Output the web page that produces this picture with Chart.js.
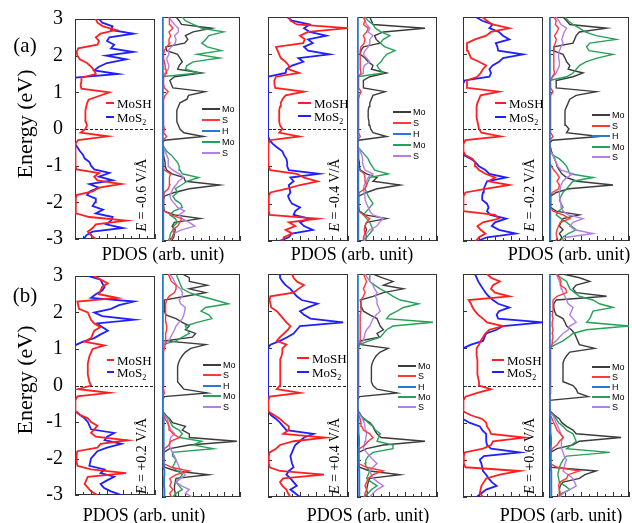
<!DOCTYPE html>
<html>
<head>
<meta charset="utf-8">
<script src="https://cdn.jsdelivr.net/npm/chart.js@4.4.1/dist/chart.umd.min.js"></script>
<style>
  body { margin:0; width:632px; height:523px; background:#fff; position:relative; overflow:hidden; }
  canvas { position:absolute; }
  .t { position:absolute; white-space:nowrap; line-height:1; color:#000; font-family:'Liberation Serif','Times New Roman',serif; transform:translate(-50%,-50%); }
  .rot { transform:translate(-50%,-50%) rotate(-90deg); }
  .lg { position:absolute; white-space:nowrap; line-height:1; color:#000; transform:translateY(-50%); }
  .ln { position:absolute; height:2px; margin-top:-1px; }
</style>
</head>
<body>
<script>
// energy grid (eV), bottom to top
const energy = [
  -3.0,-2.9,-2.8,-2.7,-2.6,-2.5,-2.4,-2.3,-2.2,-2.1,
  -2.0,-1.9,-1.8,-1.7,-1.6,-1.5,-1.4,-1.3,-1.2,-1.1,
  -1.0,-0.9,-0.8,-0.7,-0.6,-0.5,-0.4,-0.3,-0.2,-0.1,
  0.0,0.1,0.2,0.3,0.4,0.5,0.6,0.7,0.8,0.9,
  1.0,1.1,1.2,1.3,1.4,1.5,1.6,1.7,1.8,1.9,
  2.0,2.1,2.2,2.3,2.4,2.5,2.6,2.7,2.8,2.9,3.0];

const fields = ['-0.6', '-0.4', '-0.2', '+0.2', '+0.4', '+0.6'];
const leftLabels = ['MoSH', 'MoS<span style="font-size:8px;position:relative;top:3px">2</span>'];
const rightLabels = ['Mo', 'S', 'H', 'Mo', 'S'];
const energyTicks = [-3, -2, -1, 0, 1, 2, 3];
const pdosTicks = [0, 1, 2, 3, 4, 5, 6, 7, 8, 9, 10];

// ---- left panels: total PDOS (arb. unit) ----
const mosh_n06 = [
  2.6,2.0,1.6,2.2,2.6,6.4,1.8,0.1,0.1,0.1,
  0.1,0.1,0.2,2.2,3.0,5.8,2.8,2.4,3.0,0.2,
  0.05,0.05,0.05,0.05,0.05,0.05,0.1,0.4,4.1,0.7,
  1.3,1.5,1.35,1.3,1.3,1.3,1.4,1.5,1.7,3.0,
  4.3,0.8,0.7,0.8,0.8,2.6,2.4,2.0,1.5,0.6,
  0.3,0.2,0.4,2.8,3.0,2.6,3.2,5.1,3.5,2.8,2.6];
const mos2_n06 = [
  1.1,1.4,2.2,6.0,3.9,4.5,4.7,2.6,3.5,2.2,
  2.5,2.6,1.5,1.9,3.0,1.8,4.7,3.0,4.3,2.4,
  2.0,1.8,1.2,1.0,0.6,0.3,0,0,0,0,
  0,0,0,0,0,0,0,0,0,0,
  0,0,0,0,0,5.4,2.4,3.0,4.0,6.4,
  3.9,7.3,4.5,4.9,4.0,4.3,7.3,4.5,4.7,3.4,3.0];
const mosh_n04 = [
  1.8,2.0,3.0,2.2,3.4,2.6,6.2,0.2,0.1,0.1,
  0.1,0.1,0.1,0.3,2.4,4.0,6.2,4.5,3.6,0.3,
  0.05,0.05,0.05,0.05,0.05,0.05,0.05,0.2,3.9,1.4,
  1.8,1.5,1.4,1.4,1.4,1.4,1.5,1.6,1.8,2.2,
  4.5,0.9,0.8,0.8,1.0,3.9,2.6,2.6,2.2,1.6,
  1.4,1.2,1.0,4.4,4.6,4.0,5.0,10.0,3.6,2.8,2.6];
const mos2_n04 = [
  1.4,2.6,3.0,5.6,4.5,4.0,5.2,3.2,3.4,4.0,
  3.0,2.7,2.5,2.8,2.7,2.6,3.2,2.8,6.4,2.6,
  2.4,2.4,2.3,2.0,1.8,1.2,0.6,0.2,0,0,
  0,0,0,0,0,0,0,0,0,0,
  0,0,0,0,0,2.2,2.3,3.0,4.4,3.8,
  7.7,5.0,4.5,5.6,5.0,7.3,5.2,4.5,5.2,3.0,2.4];
const mosh_n02 = [
  1.6,2.0,2.8,2.2,1.8,2.5,4.5,4.0,0.05,0.05,
  0.05,0.05,0.05,0.3,3.0,5.8,3.2,4.0,2.8,2.0,
  1.6,1.5,1.2,0.3,0.05,0.05,0.05,0.3,4.7,2.3,
  2.0,1.9,1.8,1.7,1.7,1.7,1.7,1.8,2.0,2.2,
  4.5,0.6,0.5,0.5,1.8,2.2,2.5,2.9,2.0,1.0,
  0.8,0.6,0.5,0.5,1.5,2.9,3.5,5.8,3.7,3.0,2.4];
const mos2_n02 = [
  1.8,3.0,6.6,4.5,3.6,4.0,5.4,3.4,3.0,3.2,
  3.0,2.4,2.4,2.5,2.6,2.8,3.0,5.4,3.3,2.8,
  2.0,1.6,1.0,0.1,0,0,0,0,0,0,
  0,0,0,0,0,0,0,0,0,0,
  0,0,0,0.2,3.3,3.5,3.3,3.7,4.5,5.0,
  7.5,4.4,4.3,4.1,5.8,5.0,4.5,3.3,3.7,2.4,1.6];
const mosh_p02 = [
  2.8,2.0,1.6,1.2,1.4,1.6,6.4,2.0,0.3,0.2,
  0.2,0.2,0.3,2.8,3.2,6.6,2.6,2.0,2.4,2.8,
  2.0,1.6,0.6,0.05,0.05,0.05,0.05,0.3,4.3,0.4,
  2.0,1.8,1.7,1.6,1.6,1.6,1.6,1.7,1.8,2.0,
  2.2,3.7,1.2,2.0,2.2,2.4,3.2,2.4,2.0,1.8,
  1.6,0.5,0.4,0.3,5.3,3.0,3.2,3.4,4.1,3.2,2.4];
const mos2_p02 = [
  5.8,4.5,3.6,3.2,4.0,4.9,3.2,3.7,1.8,1.9,
  2.0,2.4,2.8,4.0,5.8,3.7,4.0,4.9,2.0,1.8,
  1.6,1.2,0.6,0,0,0,0,0,0,0,
  0,0,0,0,0,0,0,0,0,0,
  0,0,1.0,2.4,3.2,4.1,3.4,2.8,7.4,3.4,
  2.4,4.5,5.5,7.4,2.0,2.6,3.4,3.7,3.4,3.2,1.6];
const mosh_p04 = [
  2.8,2.5,2.3,1.8,1.5,1.9,7.0,1.5,0.2,0.1,
  0.1,0.1,0.2,1.0,1.5,3.2,7.2,1.9,2.6,2.6,
  2.0,1.5,0.8,0.05,0.05,0.05,0.05,0.2,4.0,1.1,
  1.5,1.6,1.5,1.5,1.5,1.5,1.5,1.6,1.7,1.8,
  1.8,2.3,1.1,1.5,2.0,2.5,2.8,2.3,1.9,1.5,
  1.1,0.4,0.3,0.2,0.3,3.2,3.8,4.5,3.6,3.2,3.0];
const mos2_p04 = [
  4.0,3.4,2.8,3.6,3.2,2.8,2.3,2.6,3.2,3.0,
  2.9,2.8,3.0,3.2,3.4,4.0,4.5,5.7,2.3,1.9,
  1.5,1.0,0.4,0,0,0,0,0,0,0,
  0,0,0,0,0,0,0,0,0,0,
  0,0.3,1.5,2.4,3.2,3.6,4.0,9.4,5.3,4.5,
  4.0,5.0,6.2,4.2,3.6,3.2,2.8,2.2,1.8,1.5,1.5];
const mosh_p06 = [
  2.5,2.1,2.2,2.3,2.6,2.9,4.6,7.1,0.3,0.1,
  0.1,0.1,0.2,2.5,3.5,3.75,7.7,3.5,3.3,3.0,
  2.9,2.4,1.0,0.05,0.05,0.05,0.05,0.3,1.8,3.5,
  2.0,2.0,1.9,1.8,1.8,1.8,1.8,1.8,1.7,1.7,
  1.7,2.0,2.2,2.5,2.8,3.3,5.0,3.0,2.5,1.9,
  1.5,1.2,1.0,0.7,5.8,4.0,3.5,3.75,4.6,3.5,3.0];
const mos2_p06 = [
  1.7,2.3,2.9,4.2,3.6,3.2,2.9,2.5,2.4,2.3,
  2.1,2.6,7.1,3.5,3.0,2.9,2.9,2.9,2.4,2.1,
  0.8,0,0,0,0,0,0,0,0,0,
  0,0,0,0,0,0,0,0,0,0,
  0,1.0,2.5,2.7,2.9,4.2,5.0,10.0,4.4,4.2,
  4.5,5.8,4.4,3.75,3.2,2.8,2.5,2.2,1.9,1.7,1.5];

// ---- right panels: projected DOS (Mo, S, H of MoSH; Mo, S of MoS2) ----
const mo1_n06 = [
  1.2,1.5,1.6,1.7,1.3,1.6,4.9,1.6,0.3,0.2,
  0.2,0.2,0.3,1.6,3.5,7.4,3.0,2.8,1.3,0.6,
  0.4,0.4,0.3,0.2,0.2,0.1,0.05,0.3,5.3,2.8,
  2.3,2.1,1.9,1.9,1.9,1.9,2.1,2.3,3.2,3.4,
  5.5,1.4,1.2,1.0,1.6,5.1,2.0,2.2,2.6,2.3,
  2.0,0.6,0.5,2.9,3.3,3.0,4.0,6.4,2.5,2.2,1.8];
const s1_n06 = [
  1.0,1.3,1.5,1.4,2.0,2.3,2.5,1.2,0.3,0.2,
  0.2,0.2,0.2,0.3,0.8,1.0,0.9,1.0,1.1,0.3,
  0.1,0.1,0.1,0.1,0.1,0.1,0.1,0.1,0.6,0.2,
  0.3,0.2,0.2,0.2,0.2,0.2,0.2,0.2,0.2,0.4,
  0.8,0.3,0.2,0.2,0.2,0.6,0.5,0.4,0.3,0.2,
  0.2,0.3,0.6,1.0,0.9,1.1,0.9,1.4,1.0,1.0,0.9];
const mo2_n06 = [
  0.8,1.0,1.1,1.4,1.5,2.0,1.7,1.0,1.5,2.6,
  2.4,1.7,1.4,2.0,1.7,2.5,3.2,4.7,2.6,2.3,
  2.2,2.0,1.6,1.2,0.6,0.3,0,0,0,0,
  0,0,0,0,0,0,0,0,0,0,
  0,0,0,0,0,4.7,3.0,3.2,4.0,7.4,
  4.5,7.6,5.8,5.1,5.6,6.0,7.9,5.1,4.0,3.0,2.6];
const s2_n06 = [
  1.0,1.3,1.5,2.5,4.2,3.5,2.6,2.2,2.9,2.0,
  1.6,1.2,1.0,1.2,1.4,1.8,2.1,2.8,2.2,1.4,
  0.8,0.8,0.8,0.6,0.4,0.2,0,0,0,0,
  0,0,0,0,0,0,0,0,0,0,
  0,0,0,0,0,0.4,0.8,0.9,0.7,0.6,
  0.9,0.8,1.2,1.7,1.8,1.6,2.1,2.1,1.6,1.2,0.9];

const mo1_n04 = [
  1.0,1.2,1.0,1.2,1.0,1.2,3.7,1.0,0.3,0.2,
  0.2,0.2,0.2,1.2,2.5,5.4,2.0,2.5,1.2,0.4,
  0.3,0.3,0.2,0.2,0.2,0.1,0.05,0.2,3.7,2.0,
  1.7,1.6,1.5,1.4,1.4,1.4,1.5,1.6,1.8,2.0,
  3.5,0.8,0.8,0.8,1.6,3.7,1.8,2.0,1.4,1.0,
  0.4,0.5,0.8,2.9,2.4,2.2,3.3,8.5,2.0,1.8,1.6];
const s1_n04 = [
  0.8,0.8,1.0,0.9,1.0,1.2,1.6,0.8,0.2,0.2,
  0.2,0.2,0.2,0.3,1.0,1.2,1.0,1.0,0.9,0.3,
  0.1,0.1,0.1,0.1,0.1,0.1,0.1,0.1,0.4,0.2,
  0.2,0.2,0.2,0.2,0.2,0.2,0.2,0.2,0.2,0.3,
  0.5,0.2,0.2,0.2,0.2,0.5,0.4,0.4,0.4,0.4,
  0.4,0.4,0.5,0.9,1.0,0.8,1.2,1.4,0.8,1.0,0.8];
const mo2_n04 = [
  1.0,1.2,1.6,2.0,1.8,1.6,1.2,0.8,1.2,1.6,
  2.0,1.7,1.4,1.2,1.0,1.2,1.4,1.6,3.9,2.2,
  1.9,1.6,1.4,1.0,0.6,0.2,0,0,0,0,
  0,0,0,0,0,0,0,0,0,0,
  0,0,0,0,0,3.3,2.8,2.5,3.0,3.3,
  3.7,4.75,3.5,2.9,3.3,4.1,3.0,2.3,2.0,1.4,1.0];
const s2_n04 = [
  0.9,1.0,1.2,1.6,2.5,2.8,3.3,2.0,1.6,1.4,
  1.2,1.0,1.0,0.9,0.8,0.9,1.2,1.4,2.0,1.0,
  0.8,0.7,0.7,0.6,0.4,0.2,0,0,0,0,
  0,0,0,0,0,0,0,0,0,0,
  0,0,0,0,0,0.8,0.8,0.9,1.6,1.2,
  0.8,1.0,1.4,1.6,1.6,2.0,1.4,1.6,1.2,1.0,0.8];

const mo1_n02 = [
  1.3,1.6,1.3,1.75,1.3,1.5,1.75,3.8,0.9,0.2,
  0.2,0.2,0.2,0.9,2.5,8.0,3.5,2.2,1.6,1.3,
  1.0,0.9,0.7,0.5,0.3,0.2,0.05,0.4,6.3,2.2,
  2.5,2.1,2.0,2.0,2.0,2.0,2.2,2.4,2.6,3.4,
  5.9,0.9,0.9,0.9,3.0,4.25,2.4,2.6,2.2,2.0,
  1.75,0.5,0.6,3.0,3.2,3.4,3.8,7.2,2.6,2.2,1.75];
const s1_n02 = [
  0.9,1.0,0.9,1.0,1.2,1.4,2.6,1.75,0.5,0.2,
  0.2,0.2,0.2,0.4,1.2,1.3,1.0,1.3,1.0,0.6,
  0.3,0.1,0.1,0.1,0.1,0.1,0.1,0.1,0.5,0.2,
  0.2,0.2,0.2,0.2,0.2,0.2,0.2,0.2,0.2,0.2,
  0.5,0.2,0.2,0.2,0.4,0.7,0.6,0.6,0.6,0.6,
  0.6,0.6,0.6,0.8,0.9,0.7,1.0,1.2,0.8,0.9,0.6];
const mo2_n02 = [
  1.5,1.75,2.4,3.4,2.8,2.2,1.5,0.9,1.2,1.75,
  1.5,1.3,1.5,1.75,2.2,2.6,3.0,5.5,2.6,2.4,
  2.2,1.8,1.3,0.5,0.1,0,0,0,0,0,
  0,0,0,0,0,0,0,0,0,0,
  0,0,0,0.1,2.2,3.0,3.4,3.8,4.6,6.0,
  8.0,5.0,4.7,5.1,8.4,5.9,4.5,3.8,3.0,2.4,2.0];
const s2_n02 = [
  1.5,2.2,5.5,3.2,2.6,3.0,4.25,2.4,1.75,1.6,
  1.5,1.4,1.3,1.3,1.4,1.5,1.75,2.2,3.0,1.5,
  1.1,0.9,0.7,0.5,0.2,0,0,0,0,0,
  0,0,0,0,0,0,0,0,0,0,
  0,0,0,0.2,0.5,0.9,1.1,1.3,1.3,1.2,
  1.2,1.3,1.5,1.75,1.6,1.75,1.9,2.2,1.5,1.2,0.9];

const mo1_p02 = [
  1.8,1.7,1.6,1.6,1.7,1.8,6.0,1.8,0.3,0.2,
  0.2,0.2,0.2,1.0,3.5,9.6,3.5,3.5,2.6,3.0,
  1.35,1.0,0.5,0.1,0.05,0.05,0.05,0.3,5.8,2.8,
  2.4,2.0,2.0,2.0,2.0,2.0,2.1,2.3,2.6,3.0,
  3.7,5.6,0.4,3.9,4.3,3.0,3.5,2.6,1.8,0.5,
  0.3,0.3,0.3,0.3,3.0,5.6,3.5,5.8,3.5,3.5,2.6];
const s1_p02 = [
  1.2,1.0,1.4,1.0,1.2,1.0,1.8,3.5,1.2,0.2,
  0.2,0.2,0.2,0.3,0.9,1.1,2.2,1.4,1.0,0.9,
  0.7,0.4,0.2,0.1,0.1,0.1,0.1,0.1,0.3,0.2,
  0.2,0.2,0.2,0.2,0.2,0.2,0.2,0.2,0.2,0.2,
  0.3,0.4,0.4,0.5,0.5,0.6,0.6,0.5,0.5,0.4,
  0.4,0.5,0.5,0.6,0.9,1.6,1.8,1.8,1.2,1.0,0.8];
const mo2_p02 = [
  1.35,1.8,2.6,2.2,1.8,2.2,2.6,2.0,1.35,1.6,
  1.8,1.4,1.35,6.6,4.0,5.1,2.2,2.6,2.2,1.35,
  1.1,0.9,0.4,0,0,0,0,0,0,0,
  0,0,0,0,0,0,0,0,0,0,
  0,0.1,1.8,2.6,3.5,3.2,3.0,4.5,6.4,6.0,
  5.0,5.6,8.5,6.8,5.0,3.5,2.6,2.4,2.2,2.0,1.8];
const s2_p02 = [
  3.9,3.0,3.5,2.5,1.8,2.4,3.0,2.4,2.2,2.0,
  1.8,1.6,1.35,1.1,0.9,1.0,1.1,1.6,1.2,0.9,
  0.8,0.7,0.3,0,0,0,0,0,0,0,
  0,0,0,0,0,0,0,0,0,0,
  0,0.1,0.9,1.1,1.35,1.6,1.8,2.2,2.6,2.8,
  2.9,3.0,2.4,2.2,2.6,2.6,2.4,1.8,1.6,1.35,0.9];

const mo1_p04 = [
  1.2,1.3,1.2,1.3,1.4,1.6,5.4,1.6,0.3,0.2,
  0.2,0.2,0.2,1.2,3.3,8.5,3.0,2.5,2.2,2.0,
  1.6,0.8,0.5,0.2,0.05,0.05,0.05,0.3,5.0,2.5,
  2.0,1.8,1.8,1.8,1.8,1.8,1.9,2.1,2.4,2.9,
  3.9,0.5,0.4,2.8,2.5,3.3,2.9,2.7,2.5,1.6,
  0.8,0.6,0.5,0.4,2.0,3.3,5.8,3.3,4.5,3.1,2.0];
const s1_p04 = [
  1.0,1.0,1.2,1.0,1.2,1.4,2.0,3.3,1.2,0.2,
  0.2,0.2,0.2,0.3,1.0,1.4,2.0,1.6,0.8,0.6,
  0.5,0.4,0.2,0.1,0.1,0.1,0.1,0.1,0.2,0.2,
  0.2,0.2,0.2,0.2,0.2,0.2,0.2,0.2,0.2,0.2,
  0.2,0.3,0.4,0.4,0.4,0.4,0.4,0.4,0.4,0.4,
  0.5,0.5,0.5,0.5,0.8,1.0,0.8,1.0,1.2,1.0,0.8];
const mo2_p04 = [
  0.8,1.4,1.8,2.5,1.8,1.2,1.4,1.6,1.2,1.0,
  1.1,1.4,2.0,4.5,4.5,2.5,2.7,2.9,2.3,2.0,
  1.4,1.0,0.4,0,0,0,0,0,0,0,
  0,0,0,0,0,0,0,0,0,0,
  0,0.3,1.5,2.9,3.3,3.7,4.5,9.5,3.7,4.1,
  5.0,5.8,7.7,5.4,4.5,3.8,2.9,2.2,1.6,1.6,1.6];
const s2_p04 = [
  1.6,2.0,2.5,3.3,2.6,2.0,1.8,1.6,2.0,2.5,
  2.0,1.6,1.2,0.8,0.9,1.0,1.1,1.2,1.1,1.0,
  0.9,0.7,0.4,0,0,0,0,0,0,0,
  0,0,0,0,0,0,0,0,0,0,
  0,0.1,0.8,0.9,1.0,1.2,1.6,1.8,2.0,2.4,
  2.9,2.7,2.5,2.5,2.3,2.5,2.2,2.0,1.6,1.3,1.0];

const mo1_p06 = [
  1.3,1.3,1.3,1.4,1.75,3.8,4.5,5.9,0.3,0.2,
  0.2,0.2,0.2,1.0,3.0,3.8,9.0,3.4,3.0,2.2,
  1.6,1.3,0.7,0.2,0.05,0.05,0.05,4.9,3.6,3.4,
  3.0,1.8,1.75,1.75,1.75,1.75,1.75,1.9,2.2,2.6,
  5.7,3.8,3.6,3.4,3.2,2.8,2.2,2.0,1.75,0.9,
  0.7,0.6,0.6,0.9,7.2,3.4,3.0,3.4,5.1,3.8,1.75];
const s1_p06 = [
  1.2,1.4,1.3,1.2,1.3,2.2,2.4,3.8,1.0,0.2,
  0.2,0.2,0.2,0.4,1.0,1.3,1.8,1.4,1.0,0.8,
  0.6,0.4,0.2,0.1,0.1,0.1,0.1,0.1,0.2,0.2,
  0.2,0.2,0.2,0.2,0.2,0.2,0.2,0.2,0.2,0.2,
  0.2,0.4,0.4,0.5,0.4,0.5,0.4,0.4,0.5,0.4,
  0.5,0.5,0.5,0.5,1.0,2.2,2.1,1.4,1.5,1.3,1.0];
const mo2_p06 = [
  1.2,1.6,2.6,2.0,1.3,1.2,1.1,1.2,1.3,1.5,
  1.75,2.2,7.6,2.2,2.8,3.4,3.2,3.0,2.2,1.75,
  1.2,0.9,0.5,0,0,0,0,0,0,0,
  0,0,0,0,0,0,0,0,0,0,
  0,0.8,1.75,2.4,3.0,4.7,10.0,4.7,5.1,5.3,
  5.5,8.0,6.3,5.5,3.8,3.2,2.6,2.4,2.2,1.5,0.9];
const s2_p06 = [
  1.3,1.8,2.6,3.4,3.2,3.0,2.4,1.75,1.9,2.0,
  2.2,1.9,1.75,1.6,1.5,1.6,1.75,1.5,1.3,1.1,
  0.9,0.7,0.5,0,0,0,0,0,0,0,
  0,0,0,0,0,0,0,0,0,0,
  0,0.3,0.9,1.3,1.75,2.4,2.6,3.4,3.0,2.6,
  2.8,3.0,2.4,2.2,2.0,1.75,1.6,1.5,1.3,1.1,0.9];

const h_neg = [
  0.15,0.15,0.15,0.15,0.15,0.15,0.15,0.15,0.15,0.15,
  0.15,0.15,0.15,0.15,0.15,0.15,0.15,0.15,0.15,0.15,
  0.15,0.12,0.1,0.1,0.1,0.1,0.08,0.08,0.08,0.08,
  0.08,0.08,0.08,0.08,0.08,0.08,0.08,0.08,0.08,0.08,
  0.08,0.08,0.08,0.08,0.08,0.12,0.12,0.12,0.12,0.12,
  0.12,0.12,0.12,0.12,0.12,0.12,0.12,0.12,0.12,0.12,0.12];
const h_pos = [
  0.35,0.3,0.3,0.25,0.25,0.25,0.3,0.3,0.2,0.2,
  0.2,0.2,0.2,0.2,0.25,0.25,0.25,0.2,0.2,0.2,
  0.15,0.15,0.12,0.08,0.08,0.08,0.08,0.08,0.08,0.08,
  0.08,0.08,0.08,0.08,0.08,0.08,0.08,0.08,0.08,0.08,
  0.08,0.1,0.12,0.12,0.12,0.12,0.12,0.12,0.12,0.12,
  0.12,0.12,0.12,0.12,0.12,0.12,0.12,0.12,0.12,0.12,0.12];

const panels = [
  {left: [mosh_n06, mos2_n06], right: [mo1_n06, s1_n06, h_neg, mo2_n06, s2_n06]},
  {left: [mosh_n04, mos2_n04], right: [mo1_n04, s1_n04, h_neg, mo2_n04, s2_n04]},
  {left: [mosh_n02, mos2_n02], right: [mo1_n02, s1_n02, h_neg, mo2_n02, s2_n02]},
  {left: [mosh_p02, mos2_p02], right: [mo1_p02, s1_p02, h_pos, mo2_p02, s2_p02]},
  {left: [mosh_p04, mos2_p04], right: [mo1_p04, s1_p04, h_pos, mo2_p04, s2_p04]},
  {left: [mosh_p06, mos2_p06], right: [mo1_p06, s1_p06, h_pos, mo2_p06, s2_p06]}
];

// ---- styling / layout ----
const leftColors = ['#ff1f1f', '#1f1fff'];
const rightColors = ['#3c3c3c', '#ff3838', '#2a78d6', '#26a158', '#b47ee6'];
const PAD = 14;
const rowTop = [17, 274], rowBot = [241, 497];
const colX = [[75, 155, 162, 240], [268, 348, 357, 437], [463, 543, 549, 629]];
const serif = "'Liberation Serif','Times New Roman',serif";
const sans = "'Liberation Sans',Arial,sans-serif";

const framePlugin = {
  id: 'frame',
  beforeDatasetsDraw(chart, args, opts) {
    const {ctx, chartArea: a, scales: {x, y}} = chart;
    ctx.save();
    if (opts.zero) {
      const py = Math.round(y.getPixelForValue(0)) + 0.5;
      ctx.strokeStyle = '#222';
      ctx.lineWidth = 1;
      ctx.setLineDash([3, 2]);
      ctx.beginPath(); ctx.moveTo(a.left, py); ctx.lineTo(a.right, py); ctx.stroke();
      ctx.setLineDash([]);
    }
    ctx.strokeStyle = '#333';
    ctx.lineWidth = 1;
    ctx.strokeRect(a.left + 0.5, a.top + 0.5, a.right - a.left - 1, a.bottom - a.top - 1);
    ctx.beginPath();
    energyTicks.forEach(v => {
      const py = Math.round(y.getPixelForValue(v)) + 0.5;
      ctx.moveTo(a.left, py); ctx.lineTo(a.left + 4, py);
    });
    pdosTicks.forEach(v => {
      const px = Math.round(x.getPixelForValue(v)) + 0.5;
      ctx.moveTo(px, a.bottom); ctx.lineTo(px, a.bottom - (v % 2 ? 3 : 5));
    });
    ctx.stroke();
    ctx.restore();
  }
};

function makePanel(x0, x1, y0, y1, sets, labeled, zero) {
  const yW = labeled ? 48 : 0;
  const w = x1 - x0 + 2 + yW, h = y1 - y0 + 2 * PAD;
  const c = document.createElement('canvas');
  c.width = w; c.height = h;
  c.style.width = w + 'px'; c.style.height = h + 'px';
  c.style.left = (x0 - 1 - yW) + 'px';
  c.style.top = (y0 - PAD) + 'px';
  document.body.appendChild(c);
  new Chart(c, {
    type: 'scatter',
    data: {
      datasets: sets.map(s => ({
        data: s.v.map((v, i) => ({x: v, y: energy[i]})),
        borderColor: s.c, backgroundColor: s.c, borderWidth: s.w,
        showLine: true, pointRadius: 0, tension: 0
      }))
    },
    options: {
      responsive: false, animation: false, events: [],
      layout: {padding: {top: PAD, bottom: PAD, left: 1, right: 1}},
      plugins: {legend: {display: false}, tooltip: {enabled: false}, frame: {zero: zero}},
      scales: {
        x: {type: 'linear', min: 0, max: 10, display: false},
        y: {
          type: 'linear', min: -3, max: 3, display: labeled,
          afterFit: s => { s.width = yW; },
          ticks: {stepSize: 1, color: '#000', padding: 4, font: {family: serif, size: 20}},
          grid: {display: false}, border: {display: false}
        }
      }
    },
    plugins: [framePlugin]
  });
}

function addText(html, cx, cy, size, cls, family) {
  const d = document.createElement('div');
  d.className = 't' + (cls ? ' ' + cls : '');
  d.innerHTML = html;
  d.style.left = cx + 'px'; d.style.top = cy + 'px'; d.style.fontSize = size + 'px';
  if (family) d.style.fontFamily = family;
  document.body.appendChild(d);
}
function addLegend(html, lx0, lx1, tx, cy, color, size, family) {
  const l = document.createElement('div');
  l.className = 'ln';
  l.style.left = lx0 + 'px'; l.style.width = (lx1 - lx0) + 'px'; l.style.top = cy + 'px';
  l.style.background = color;
  document.body.appendChild(l);
  const d = document.createElement('div');
  d.className = 'lg';
  d.innerHTML = html;
  d.style.left = tx + 'px'; d.style.top = cy + 'px';
  d.style.fontSize = size + 'px'; d.style.fontFamily = family;
  document.body.appendChild(d);
}

// legend offsets per panel: left [lineStart, textStart, y1, y2], right [lineStart, yFirst, step]
const legL = [[31, 42, 103, 117], [30, 46, 103, 116], [32, 46, 103, 117],
              [32, 42, 360, 372], [29, 44, 358, 372], [29, 44, 360, 372]];
const legR = [[40, 109, 10.9], [36, 112, 11], [43, 115, 10.6],
              [41, 365, 10.4], [41, 366, 10.3], [43, 367, 10]];
const pdosCenter = [[163, 254], [352, 254], [569, 254], [144, 515], [368, 515], [561, 515]];

panels.forEach((p, k) => {
  const row = k < 3 ? 0 : 1, g = k % 3;
  const [lx0, lx1, rx0, rx1] = colX[g];
  const y0 = rowTop[row], y1 = rowBot[row];
  makePanel(lx0, lx1, y0, y1,
    [{v: p.left[0], c: leftColors[0], w: 1.8}, {v: p.left[1], c: leftColors[1], w: 1.8}],
    g === 0, true);
  const rs = p.right.map((v, i) => ({v: v, c: rightColors[i], w: i === 2 ? 2 : 1.4}));
  makePanel(rx0, rx1, y0, y1, [rs[2], rs[1], rs[4], rs[3], rs[0]], false, false);

  const L = legL[k];
  leftLabels.forEach((t, i) => addLegend(t, lx0 + L[0], lx0 + L[1] - 3, lx0 + L[1], L[2 + i], leftColors[i], 13, serif));
  const R = legR[k];
  rightLabels.forEach((t, i) => addLegend(t, rx0 + R[0], rx0 + R[0] + 18, rx0 + R[0] + 20, R[1] + i * R[2], rightColors[i], 9, sans));

  addText('<i>E</i> = ' + fields[k] + ' V/Å', lx0 + 67, row ? 456 : 195, 14, 'rot');
  addText('PDOS (arb. unit)', pdosCenter[k][0], pdosCenter[k][1], 18);
});

addText('Energy (eV)', 25, 124, 22, 'rot');
addText('Energy (eV)', 25, 380, 22, 'rot');
addText('(a)', 25, 45, 21);
addText('(b)', 25, 295, 21);
</script>
</body>
</html>
